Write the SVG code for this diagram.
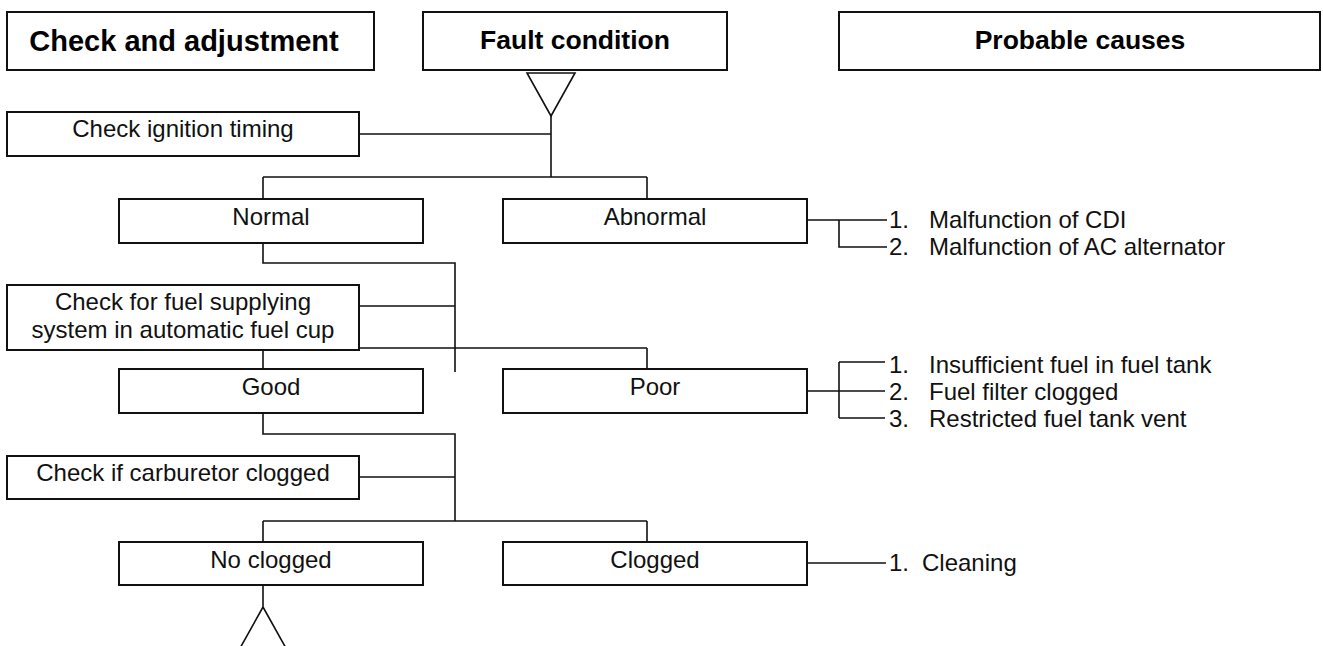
<svg xmlns="http://www.w3.org/2000/svg" width="1323" height="646" viewBox="0 0 1323 646">
<style>
.box{fill:#fff;stroke:#111;stroke-width:2}
.ln{fill:none;stroke:#111;stroke-width:1.6}
.t{font-family:"Liberation Sans",Arial,sans-serif;font-size:24px;fill:#111}
.c{text-anchor:middle}
.h{font-family:"Liberation Sans",Arial,sans-serif;font-weight:bold;fill:#000;text-anchor:middle}
</style>
<rect width="1323" height="646" fill="#fff"/>
<g id="connectors">
<polygon class="ln" points="527,73 575,73 551,116"/>
<path class="ln" d="M551,116 V177 M359,134 H551 M263,177 H647 M263,177 V199 M647,177 V199"/>
<path class="ln" d="M807,220 H887 M839,220 V247 H887"/>
<path class="ln" d="M263,243 V263 H455 V372 M359,306 H455 M263,348 H647 M263,348 V369 M647,348 V369"/>
<path class="ln" d="M807,391 H885 M839,362 V418 M839,362 H885 M839,418 H885"/>
<path class="ln" d="M263,413 V434 H455 V521 M359,477 H455 M263,521 H647 M263,521 V542 M647,521 V542"/>
<path class="ln" d="M807,563 H886"/>
<path class="ln" d="M263,585 V607 M239,650 L263,607 L287,650"/>
</g>
<g id="hdr-check">
<rect class="box" x="7" y="12" width="367" height="58"/>
<text class="h" x="184" y="51" font-size="29">Check and adjustment</text>
</g>
<g id="hdr-fault">
<rect class="box" x="423" y="12" width="304" height="58"/>
<text class="h" x="575" y="49" font-size="26.5">Fault condition</text>
</g>
<g id="hdr-causes">
<rect class="box" x="839" y="12" width="481" height="58"/>
<text class="h" x="1080" y="49" font-size="26.5">Probable causes</text>
</g>
<g id="check-ignition">
<rect class="box" x="7" y="112" width="352" height="44"/>
<text class="t c" x="183" y="137">Check ignition timing</text>
</g>
<g id="normal">
<rect class="box" x="119" y="199" width="304" height="44"/>
<text class="t c" x="271" y="225">Normal</text>
</g>
<g id="abnormal">
<rect class="box" x="503" y="199" width="304" height="44"/>
<text class="t c" x="655" y="225">Abnormal</text>
</g>
<g id="causes-abnormal">
<text class="t" x="889" y="228">1.</text><text class="t" x="929" y="228">Malfunction of CDI</text>
<text class="t" x="889" y="255">2.</text><text class="t" x="929" y="255">Malfunction of AC alternator</text>
</g>
<g id="check-fuel">
<rect class="box" x="7" y="285" width="352" height="65"/>
<text class="t c" x="183" y="310">Check for fuel supplying</text>
<text class="t c" x="183" y="338">system in automatic fuel cup</text>
</g>
<g id="good">
<rect class="box" x="119" y="369" width="304" height="44"/>
<text class="t c" x="271" y="395">Good</text>
</g>
<g id="poor">
<rect class="box" x="503" y="369" width="304" height="44"/>
<text class="t c" x="655" y="395">Poor</text>
</g>
<g id="causes-poor">
<text class="t" x="889" y="373">1.</text><text class="t" x="929" y="373">Insufficient fuel in fuel tank</text>
<text class="t" x="889" y="400">2.</text><text class="t" x="929" y="400">Fuel filter clogged</text>
<text class="t" x="889" y="427">3.</text><text class="t" x="929" y="427">Restricted fuel tank vent</text>
</g>
<g id="check-carb">
<rect class="box" x="7" y="456" width="352" height="43"/>
<text class="t c" x="183" y="481">Check if carburetor clogged</text>
</g>
<g id="no-clogged">
<rect class="box" x="119" y="542" width="304" height="43"/>
<text class="t c" x="271" y="568">No clogged</text>
</g>
<g id="clogged">
<rect class="box" x="503" y="542" width="304" height="43"/>
<text class="t c" x="655" y="568">Clogged</text>
</g>
<g id="causes-clogged">
<text class="t" x="889" y="571">1.</text><text class="t" x="922" y="571">Cleaning</text>
</g>
</svg>
